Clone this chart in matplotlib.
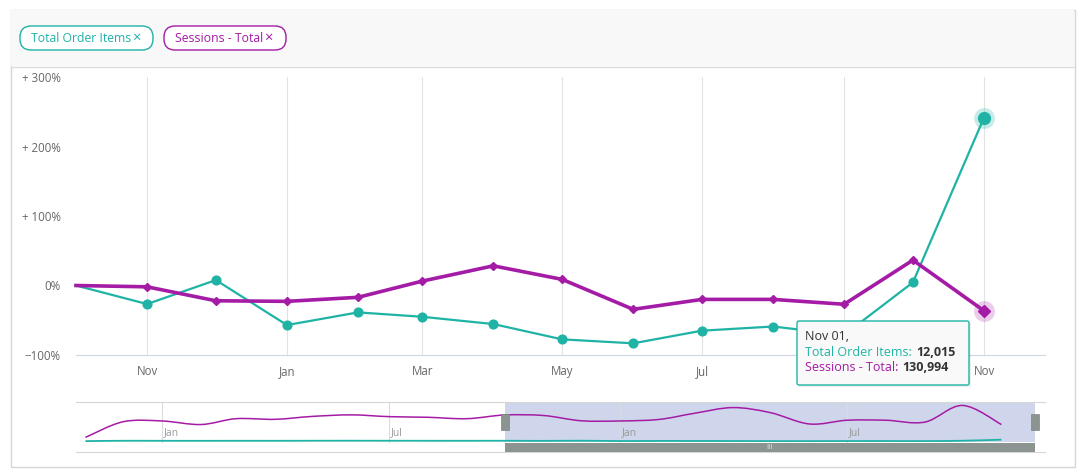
import matplotlib
matplotlib.use("Agg")
import matplotlib.pyplot as plt
import matplotlib.dates as mdates
from matplotlib.patches import Rectangle, FancyBboxPatch, PathPatch
from matplotlib.path import Path
from datetime import date

plt.rcParams["font.family"] = ["Open Sans", "DejaVu Sans"]

# monthly data, Nov 2017 .. Nov 2019 (navigator shows all, main chart the last 14)
months = [date(2017 + (10 + i) // 12, (10 + i) % 12 + 1, 1) for i in range(25)]
sessions = [30000, 153000, 159000, 131000, 177000, 172000, 195000, 207000, 193000,
            188000, 177000, 205960, 202050, 160650, 159000, 170950, 218940, 264250,
            224090, 135320, 164770, 164770, 150350, 281140, 130994]
order_items = [700, 3400, 3100, 2900, 3300, 3200, 3600, 3800, 3500, 3400, 3300,
               3518, 2579, 3792, 1516, 2157, 1935, 1566, 792, 591, 1231, 1442,
               1020, 3676, 12015]
MAIN_START = 11  # Oct 2018

y_ticks = [-100, 0, 100, 200, 300]
y_tick_labels = ["\u2212100%", "0%", "+ 100%", "+ 200%", "+ 300%"]

TEAL = "#1fb3a5"
MAGENTA = "#a41ba5"
GREY_TXT = "#666666"

W, H = 1084, 476


def fig_box(x0, y0, x1, y1):
    """Pixel box (top-left origin) -> figure fraction rect."""
    return [x0 / W, 1 - y1 / H, (x1 - x0) / W, (y1 - y0) / H]


def spline_path(xs, ys):
    """Catmull-Rom style smooth path through the points (as bezier curves)."""
    pts = list(zip(xs, ys))
    verts = [pts[0]]
    codes = [Path.MOVETO]
    for i in range(len(pts) - 1):
        p0 = pts[i - 1] if i > 0 else pts[i]
        p1, p2 = pts[i], pts[i + 1]
        p3 = pts[i + 2] if i + 2 < len(pts) else pts[i + 1]
        c1 = (p1[0] + (p2[0] - p0[0]) / 6, p1[1] + (p2[1] - p0[1]) / 6)
        c2 = (p2[0] - (p3[0] - p1[0]) / 6, p2[1] - (p3[1] - p1[1]) / 6)
        verts += [c1, c2, p2]
        codes += [Path.CURVE4] * 3
    return Path(verts, codes)


fig = plt.figure(figsize=(W / 100, H / 100), dpi=100)

# background frame + header
bg = fig.add_axes([0, 0, 1, 1], zorder=0)
bg.set_xlim(0, W)
bg.set_ylim(H, 0)
bg.axis("off")
bg.add_patch(Rectangle((10.5, 9.5), 1064, 457, fc="white", ec="#d6d6d6", lw=1))
bg.add_patch(Rectangle((11, 10), 1063, 56, fc="#f8f8f8", ec="none"))
bg.plot([10.5, 1074.5], [66.5, 66.5], color="#dcdcdc", lw=1)

for x0, wd, label, col in [(20, 133, "Total Order Items", TEAL), (164, 122, "Sessions - Total", MAGENTA)]:
    bg.add_patch(FancyBboxPatch((x0, 26), wd, 24, boxstyle="round,pad=0,rounding_size=11",
                                fc="white", ec=col, lw=1))
    t = bg.text(x0 + 11, 38.5, label, color=col, fontsize=8.8, va="center", ha="left")
    bg.annotate("\u00d7", xy=(1, 1), xycoords=t, xytext=(0.5, 1), textcoords="offset points",
                color=col, fontsize=10.5, va="top", ha="left")

# main chart: % change vs first month
x_main = mdates.date2num(months[MAIN_START:])
s_main = sessions[MAIN_START:]
o_main = order_items[MAIN_START:]
s_pct = [(v / s_main[0] - 1) * 100 for v in s_main]
o_pct = [(v / o_main[0] - 1) * 100 for v in o_main]

ax = fig.add_axes(fig_box(76, 77, 1045, 355), zorder=1)
ax.patch.set_alpha(0)
ax.set_xlim(x_main[0], x_main[0] + 422.6)
ax.set_ylim(-100, 300)

marks = list(range(1, len(x_main)))  # first point sits on the edge, no marker
ax.plot(x_main, o_pct, color=TEAL, lw=1.6, marker="o", ms=6.3, markevery=marks, zorder=3, clip_on=False)
ax.plot(x_main, s_pct, color=MAGENTA, lw=2.6, marker="D", ms=4, markevery=marks, zorder=4, clip_on=False)
# hovered point highlight
ax.plot(x_main[-1], o_pct[-1], "o", ms=15, color=TEAL, alpha=0.25, mec="none", zorder=2, clip_on=False)
ax.plot(x_main[-1], o_pct[-1], "o", ms=8.5, color=TEAL, zorder=3, clip_on=False)
ax.plot(x_main[-1], s_pct[-1], "o", ms=15, color=MAGENTA, alpha=0.22, mec="none", zorder=2, clip_on=False)
ax.plot(x_main[-1], s_pct[-1], "D", ms=6.5, color=MAGENTA, zorder=4, clip_on=False)

ax.xaxis.set_major_locator(mdates.MonthLocator(bymonth=[1, 3, 5, 7, 9, 11]))
# the Sep label sits under the tooltip
ax.xaxis.set_major_formatter(mdates.DateFormatter("%b"))
ax.grid(axis="x", color="#e2e2e2", lw=0.8)
ax.set_yticks(y_ticks)
ax.set_yticklabels(y_tick_labels)
ax.tick_params(axis="x", length=0, pad=7, labelcolor=GREY_TXT, labelsize=8.3)
ax.tick_params(axis="y", length=0, pad=11, labelcolor=GREY_TXT, labelsize=8.3)
for side in ["top", "left", "right"]:
    ax.spines[side].set_visible(False)
ax.spines["bottom"].set_color("#cfd8e0")
ax.spines["bottom"].set_linewidth(0.8)
fig.canvas.draw()
for lbl in ax.get_xticklabels():
    if lbl.get_text() == "Sep":
        lbl.set_visible(False)

# navigator
x_all = mdates.date2num(months)
jan = mdates.date2num(date(2018, 1, 1))
nav = fig.add_axes(fig_box(76, 402, 1045, 452), zorder=1)
nav.patch.set_alpha(0)
nav.set_xlim(jan - (162 - 76) / 1.2548, jan + (1045 - 162) / 1.2548)
nav.set_ylim(-84900, 308150)
nav.set_xticks([])
nav.set_yticks([])
for side in ["left", "right"]:
    nav.spines[side].set_visible(False)
for side in ["top", "bottom"]:
    nav.spines[side].set_color("#d6d6d6")
    nav.spines[side].set_linewidth(0.8)

sel0, sel1 = ax.get_xlim()
xax = nav.get_xaxis_transform()
nav.axvspan(sel0, sel1, ymin=0.2, ymax=1, fc="#cfd6eb", ec="none", zorder=0.5)
nav.axvspan(sel0, sel1, ymin=0, ymax=0.18, fc="#8c9491", ec="none", zorder=3)
nav.text((sel0 + sel1) / 2, 0.09, "III", transform=xax, color="#e4e8e8", fontsize=5.5,
         ha="center", va="center", zorder=4)

for d in [date(2018, 1, 1), date(2018, 7, 1), date(2019, 1, 1), date(2019, 7, 1)]:
    xd = mdates.date2num(d)
    nav.axvline(xd, ymin=0.2, ymax=1, color="#d8dbe0", lw=0.8, zorder=1)
    nav.text(xd + 1.5, 0.38, d.strftime("%b"), transform=xax,
             color="#999999", fontsize=7.5, va="center", ha="left")

nav.add_patch(PathPatch(spline_path(x_all, sessions), fill=False, ec=MAGENTA, lw=1.1, zorder=2))
nav.add_patch(PathPatch(spline_path(x_all, order_items), fill=False, ec=TEAL, lw=1.3, zorder=2))

for xs in [sel0, sel1]:
    nav.add_patch(Rectangle((xs - 3.2, 0.44), 6.4, 0.32, transform=xax, fc="#8c9491",
                            ec="#7d8582", lw=0.5, zorder=4, clip_on=False))

# tooltip
top = fig.add_axes([0, 0, 1, 1], zorder=5)
top.set_xlim(0, W)
top.set_ylim(H, 0)
top.axis("off")
top.add_patch(Rectangle((799, 323), 172, 64, fc="black", alpha=0.07, ec="none"))
top.add_patch(FancyBboxPatch((797, 321), 172, 64, boxstyle="round,pad=0,rounding_size=2",
                             fc="#f9f9f9", ec=TEAL, lw=1))
top.text(805, 337, "Nov 01,", color="#333333", fontsize=9, va="center", ha="left")
t1 = top.text(805, 352.5, "Total Order Items:", color=TEAL, fontsize=9, va="center", ha="left")
top.annotate(f"{order_items[-1]:,}", xy=(1, 0.5), xycoords=t1, xytext=(3, 0),
             textcoords="offset points", color="#333333", fontsize=9, fontweight="bold",
             va="center", ha="left")
t2 = top.text(805, 367.5, "Sessions - Total:", color=MAGENTA, fontsize=9, va="center", ha="left")
top.annotate(f"{sessions[-1]:,}", xy=(1, 0.5), xycoords=t2, xytext=(3, 0),
             textcoords="offset points", color="#333333", fontsize=9, fontweight="bold",
             va="center", ha="left")

fig.savefig("out.png", dpi=100)
